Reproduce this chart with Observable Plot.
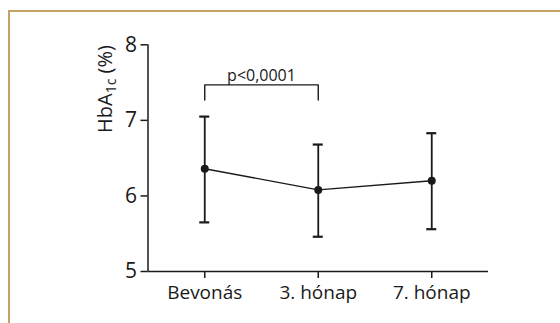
<!DOCTYPE html>
<html><head><meta charset="utf-8">
<script src="https://cdn.jsdelivr.net/npm/d3@7"></script>
<script src="https://cdn.jsdelivr.net/npm/@observablehq/plot@0.6"></script>
<style>
body{margin:0;background:#fff;}
#wrap{position:relative;width:560px;height:323px;overflow:hidden;background:#fff;}
#frame{position:absolute;left:8px;top:10px;width:700px;height:500px;border-top:2px solid #c4a265;border-left:2px solid #c4a265;}
#chart{position:absolute;left:0;top:0;}
</style></head><body>
<div id="wrap"><div id="frame"></div><div id="chart"></div></div>
<script>
const categories = ["Bevonás", "3. hónap", "7. hónap"];
const means = [6.36, 6.08, 6.20];
const upper = [7.05, 6.68, 6.83];
const lower = [5.65, 5.46, 5.56];
const yTicks = [5, 6, 7, 8];
const bracketX = [0, 0, 1, 1];
const bracketY = [7.27, 7.47, 7.47, 7.27];
const pLabel = "p<0,0001";
const pLabelX = 0.5;
const pLabelY = 7.47;

const data = categories.map((c, i) => ({i, c, m: means[i], hi: upper[i], lo: lower[i]}));
const bracket = bracketX.map((x, k) => ({x, y: bracketY[k]}));
const ink = "#1a1a1a";

const plot = Plot.plot({
  width: 560,
  height: 323,
  marginLeft: 147.5,
  marginRight: 72,
  marginTop: 44.3,
  marginBottom: 52,
  style: {fontFamily: "'Open Sans', sans-serif", fontSize: "18px", color: ink, background: "transparent"},
  x: {type: "linear", domain: [-0.5, 2.5], label: null},
  y: {domain: [5, 8], label: null},
  marks: [
    Plot.axisX({ticks: [0, 1, 2], tickFormat: i => categories[i], tickSize: 7, tickPadding: 7, fontSize: 19, strokeWidth: 1.5}),
    Plot.axisY({ticks: yTicks, tickFormat: d3.format("d"), tickSize: 7, tickPadding: 4, fontSize: 21, strokeWidth: 1.5}),
    Plot.ruleY([5], {stroke: ink, strokeWidth: 1.5}),
    Plot.ruleX([-0.5], {y1: 5, y2: 8, stroke: ink, strokeWidth: 1.5}),
    Plot.ruleX(data, {x: "i", y1: "lo", y2: "hi", stroke: ink, strokeWidth: 1.8}),
    Plot.ruleY(data, {x1: "i", x2: "i", y: "hi", insetLeft: -5, insetRight: -5, stroke: ink, strokeWidth: 2.2}),
    Plot.ruleY(data, {x1: "i", x2: "i", y: "lo", insetLeft: -5, insetRight: -5, stroke: ink, strokeWidth: 2.2}),
    Plot.line(data, {x: "i", y: "m", stroke: ink, strokeWidth: 1.4}),
    Plot.dot(data, {x: "i", y: "m", r: 4, fill: ink}),
    Plot.line(bracket, {x: "x", y: "y", stroke: ink, strokeWidth: 1.4, strokeLinejoin: "miter", curve: "linear"}),
    Plot.text([pLabel], {x: () => pLabelX, y: () => pLabelY, text: d => d, dy: -4, fontSize: 16, fill: ink, lineAnchor: "bottom"})
  ]
});
document.getElementById("chart").appendChild(plot);

// y-axis title with subscript
const svg = d3.select(plot);
const t = svg.append("text")
  .attr("transform", "translate(112,89) rotate(-90)")
  .attr("text-anchor", "middle")
  .attr("fill", ink)
  .style("font-family", "'Open Sans', sans-serif")
  .style("font-size", "20px");
t.append("tspan").text("HbA");
t.append("tspan").attr("dy", 4).style("font-size", "14px").text("1c");
t.append("tspan").attr("dy", -4).text(" (%)");
</script>
</body></html>
